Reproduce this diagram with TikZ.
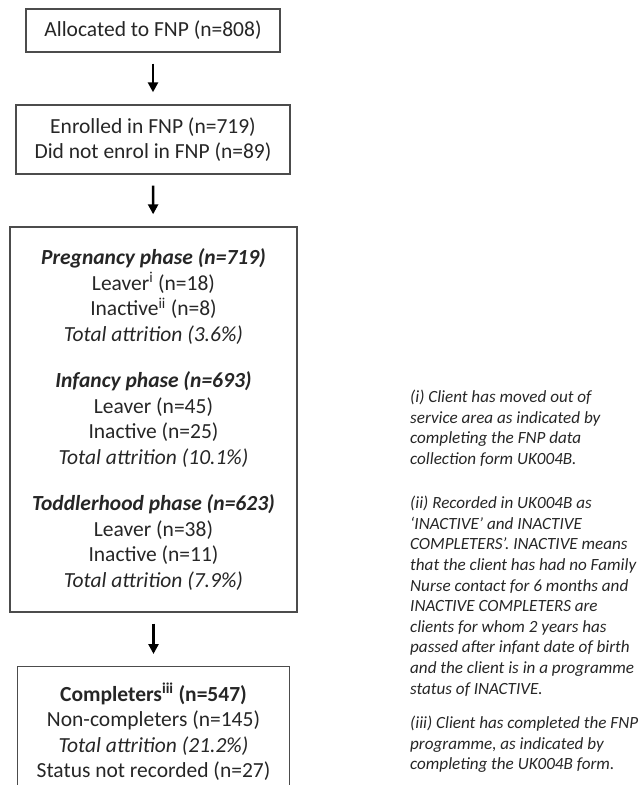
\documentclass[tikz,border=0pt]{standalone}
\usepackage{fontspec}
\setmainfont{Carlito}
\usetikzlibrary{arrows.meta}

\begin{document}
\begin{tikzpicture}[x=1pt,y=-1pt,
    box/.style={draw=black!70,line width=1.4pt,align=center,text=black!85,
      font=\fontsize{21.5}{25.5}\selectfont,inner xsep=8pt,inner ysep=0pt},
    flow/.style={-{Triangle[length=10pt,width=10pt]},line width=2.6pt,
      shorten <=11pt,shorten >=12pt},
    note/.style={align=left,anchor=north west,inner sep=0pt,text=black!85,
      font=\fontsize{17.1}{20.6}\selectfont\itshape},
   ]
   \useasboundingbox (0,0) rectangle (643,785);
   \node[box,minimum width=254pt,minimum height=43pt] (alloc) at (153,30.5)
     {Allocated to FNP (n=808)};
   \node[box,minimum width=274pt,minimum height=69pt] (enrol) at (153,139.5)
     {Enrolled in FNP (n=719)\\Did not enrol in FNP (n=89)};
   \node[box,minimum width=287pt,minimum height=385pt] (phases) at (153.5,419.5)
     {\textbf{\textit{Pregnancy phase (n=719)}}\\
      Leaver\textsuperscript{i} (n=18)\\
      Inactive\textsuperscript{ii} (n=8)\\
      \textit{Total attrition (3.6\%)}\\[21pt]
      \textbf{\textit{Infancy phase (n=693)}}\\
      Leaver (n=45)\\
      Inactive (n=25)\\
      \textit{Total attrition (10.1\%)}\\[21pt]
      \textbf{\textit{Toddlerhood phase (n=623)}}\\
      Leaver (n=38)\\
      Inactive (n=11)\\
      \textit{Total attrition (7.9\%)}};
   \node[box,minimum width=272pt,minimum height=130pt,anchor=north]
     (complete) at (153.5,666)
     {\textbf{Completers\textsuperscript{iii} (n=547)}\\
      Non-completers (n=145)\\
      \textit{Total attrition (21.2\%)}\\
      Status not recorded (n=27)};
   \draw[flow] (alloc) -- (enrol);
   \draw[flow] (enrol) -- (phases);
   \draw[flow] (phases) -- (complete);
   % footnotes
   \node[note] (fni) at (410,390)
     {(i) Client has moved out of\\service area as indicated by\\
      completing the FNP data\\collection form UK004B.};
   \node[note] (fnii) at (410,496)
     {(ii) Recorded in UK004B as\\`INACTIVE' and INACTIVE\\
      COMPLETERS'. INACTIVE means\\that the client has had no Family\\
      Nurse contact for 6 months and\\INACTIVE COMPLETERS are\\
      clients for whom 2 years has\\passed after infant date of birth\\
      and the client is in a programme\\status of INACTIVE.};
   \node[note] (fniii) at (410,716)
     {(iii) Client has completed the FNP\\programme, as indicated by\\
      completing the UK004B form.};
\end{tikzpicture}
\end{document}
